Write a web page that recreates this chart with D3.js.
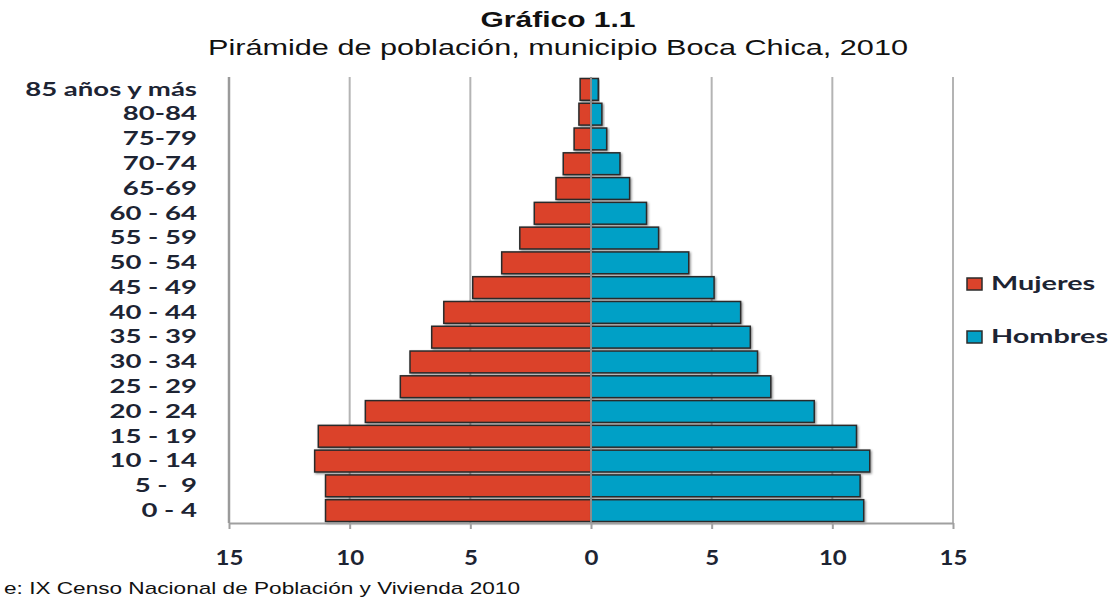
<!DOCTYPE html>
<html>
<head>
<meta charset="utf-8">
<script src="https://cdn.jsdelivr.net/npm/d3@7"></script>
<style>
  body { margin: 0; background: #fff; }
  text { white-space: pre; }
</style>
</head>
<body>
<svg width="1109" height="597"></svg>
<script>
var ageGroups = ["85 años y más", "80-84", "75-79", "70-74", "65-69", "60 - 64", "55 - 59", "50 - 54",
    "45 - 49", "40 - 44", "35 - 39", "30 - 34", "25 - 29", "20 - 24", "15 - 19", "10 - 14", "5 -  9", "0 - 4"];
var mujeres = [0.45, 0.5, 0.7, 1.15, 1.45, 2.35, 2.95, 3.7, 4.9, 6.1, 6.6, 7.5, 7.9, 9.35, 11.3, 11.45, 11.0, 11.0];
var hombres = [0.3, 0.45, 0.65, 1.2, 1.6, 2.3, 2.8, 4.05, 5.1, 6.2, 6.6, 6.9, 7.45, 9.25, 11.0, 11.55, 11.15, 11.3];
var xTicks = [-15, -10, -5, 0, 5, 10, 15];
var series = ["Mujeres", "Hombres"];

var svg = d3.select("svg"),
    width = +svg.attr("width"),
    height = +svg.attr("height");

var plot = { left: 229, right: 953, top: 77, bottom: 523 };
var colors = { Mujeres: "#db432b", Hombres: "#03a0c6" };
var labelFont = "Lato, 'Open Sans', sans-serif";
var condFont = "'Liberation Sans Narrow', 'Liberation Sans', Arial, sans-serif";

// stretch text horizontally, the source picture is wider than tall
function stretch(sel, k) {
    sel.each(function () {
        var w = this.getComputedTextLength();
        this.setAttribute("textLength", w * k);
        this.setAttribute("lengthAdjust", "spacingAndGlyphs");
    });
}
function fitTo(sel, w) {
    sel.attr("textLength", w).attr("lengthAdjust", "spacingAndGlyphs");
}

var x = d3.scaleLinear()
    .domain([xTicks[0], xTicks[xTicks.length - 1]])
    .range([plot.left, plot.right]);

var y = d3.scaleBand()
    .domain(ageGroups)
    .range([plot.top, plot.bottom])
    .paddingInner(0.12)
    .paddingOuter(0.06);

var defs = svg.append("defs");
var shadow = defs.append("filter").attr("id", "shadow")
    .attr("x", "-10%").attr("y", "-20%").attr("width", "130%").attr("height", "150%");
shadow.append("feDropShadow")
    .attr("dx", 1.2).attr("dy", 1.2).attr("stdDeviation", 0.9)
    .attr("flood-color", "#000").attr("flood-opacity", 0.45);

// titles
svg.append("text")
    .attr("x", 558).attr("y", 27)
    .attr("text-anchor", "middle")
    .attr("font-family", condFont)
    .attr("font-weight", "bold")
    .attr("font-size", 22)
    .attr("fill", "#111")
    .text("Gráfico 1.1")
    .call(fitTo, 155);

svg.append("text")
    .attr("x", 558).attr("y", 55)
    .attr("text-anchor", "middle")
    .attr("font-family", condFont)
    .attr("font-size", 22)
    .attr("fill", "#111")
    .text("Pirámide de población, municipio Boca Chica, 2010")
    .call(fitTo, 700);

// gridlines
svg.append("g")
    .attr("class", "grid")
    .selectAll("line")
    .data(xTicks.filter(function (d) { return d !== 0; }))
    .enter().append("line")
    .attr("x1", function (d) { return x(d); })
    .attr("x2", function (d) { return x(d); })
    .attr("y1", plot.top)
    .attr("y2", plot.bottom)
    .attr("stroke", function (d, i) { return i === 0 ? "#9a9a9a" : "#b4b4b4"; })
    .attr("stroke-width", function (d, i) { return i === 0 ? 2.5 : 2; });

// bars
var rows = ageGroups.map(function (g, i) {
    return { group: g, Mujeres: mujeres[i], Hombres: hombres[i] };
});

var bars = svg.append("g").attr("class", "bars");

bars.selectAll("rect.m")
    .data(rows)
    .enter().append("rect")
    .attr("class", "m")
    .attr("x", function (d) { return x(-d.Mujeres); })
    .attr("y", function (d) { return y(d.group); })
    .attr("width", function (d) { return x(0) - x(-d.Mujeres); })
    .attr("height", y.bandwidth())
    .attr("fill", colors.Mujeres)
    .attr("stroke", "#2b2b2b")
    .attr("stroke-width", 1.5)
    .attr("filter", "url(#shadow)");

bars.selectAll("rect.h")
    .data(rows)
    .enter().append("rect")
    .attr("class", "h")
    .attr("x", x(0))
    .attr("y", function (d) { return y(d.group); })
    .attr("width", function (d) { return x(d.Hombres) - x(0); })
    .attr("height", y.bandwidth())
    .attr("fill", colors.Hombres)
    .attr("stroke", "#2b2b2b")
    .attr("stroke-width", 1.5)
    .attr("filter", "url(#shadow)");

// vertical axis at zero
svg.append("line")
    .attr("x1", x(0)).attr("x2", x(0))
    .attr("y1", plot.top).attr("y2", plot.bottom)
    .attr("stroke", "#8c8c8c")
    .attr("stroke-width", 2);

// age labels
svg.append("g")
    .attr("class", "ylabels")
    .selectAll("text")
    .data(ageGroups)
    .enter().append("text")
    .attr("x", 197)
    .attr("y", function (d) { return y(d) + y.bandwidth() / 2; })
    .attr("dy", "0.35em")
    .attr("text-anchor", "end")
    .attr("font-family", labelFont)
    .attr("font-weight", "bold")
    .attr("font-size", 18)
    .attr("fill", "#1d2433")
    .text(function (d) { return d; })
    .call(stretch, 1.53);

// bottom axis
var xAxis = svg.append("g")
    .attr("transform", "translate(0," + plot.bottom + ")")
    .call(d3.axisBottom(x)
        .tickValues(xTicks)
        .tickSize(6)
        .tickSizeOuter(0)
        .tickPadding(22)
        .tickFormat(function (d) { return Math.abs(d); }));

xAxis.select(".domain").attr("stroke", "#a0a0a0").attr("stroke-width", 2);
xAxis.selectAll(".tick line").attr("stroke", "#a0a0a0").attr("stroke-width", 2);
xAxis.selectAll(".tick text")
    .attr("font-family", labelFont)
    .attr("font-weight", "bold")
    .attr("font-size", 20)
    .attr("fill", "#1d2433")
    .call(stretch, 1.2);

// legend
var legend = svg.append("g").attr("class", "legend");
var legendItems = legend.selectAll("g")
    .data(series)
    .enter().append("g")
    .attr("transform", function (d, i) { return "translate(967," + (278 + i * 53) + ")"; });

legendItems.append("rect")
    .attr("width", 15).attr("height", 12)
    .attr("fill", function (d) { return colors[d]; })
    .attr("stroke", "#2b2b2b")
    .attr("stroke-width", 1.5);

legendItems.append("text")
    .attr("x", 24).attr("y", 6)
    .attr("dy", "0.35em")
    .attr("font-family", labelFont)
    .attr("font-weight", "bold")
    .attr("font-size", 18)
    .attr("fill", "#1d2433")
    .text(function (d) { return d; })
    .call(stretch, 1.6);

// source note
svg.append("text")
    .attr("x", 4).attr("y", 594)
    .attr("font-family", condFont)
    .attr("font-size", 17)
    .attr("fill", "#111")
    .text("e: IX Censo Nacional de Población y Vivienda 2010")
    .call(fitTo, 516);
</script>
</body>
</html>
